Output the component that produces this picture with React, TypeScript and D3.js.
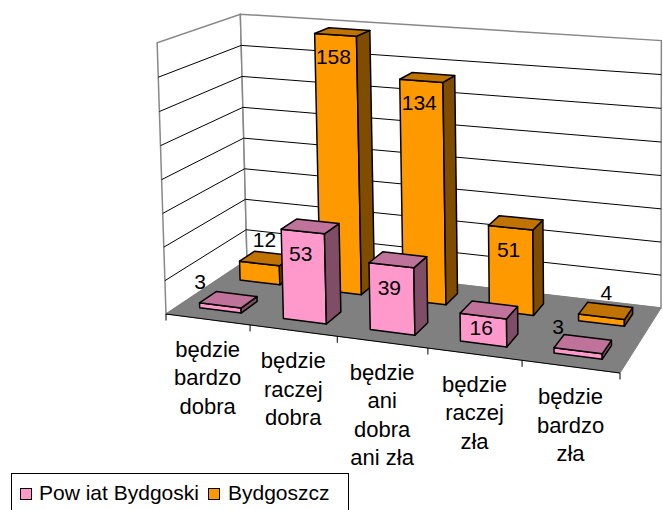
import React from 'react';
import * as d3 from 'd3';

// ---- data ----
const categories = [
  'będzie\nbardzo\ndobra',
  'będzie\nraczej\ndobra',
  'będzie\nani\ndobra\nani zła',
  'będzie\nraczej\nzła',
  'będzie\nbardzo\nzła',
];
const seriesNames = ['Pow iat Bydgoski', 'Bydgoszcz'];
const powiatValues = [3, 53, 39, 16, 3];
const bydgoszczValues = [12, 158, 134, 51, 4];
const valueTicks = [0, 20, 40, 60, 80, 100, 120, 140, 160];

const W = 663;
const H = 510;
const FONT = 'Liberation Sans, Arial, sans-serif';

// floor corners on screen: front-left, front-right, back-right, back-left
const FL = [166, 314];
const FR = [620, 373];
const BR = [661, 308];
const BL = [247, 260];
const VP = [641, 14850]; // vanishing point of vertical edges

function makeHomography() {
  const [x0, y0] = FL, [x1, y1] = FR, [x2, y2] = BR, [x3, y3] = BL;
  const dx1 = x1 - x2, dy1 = y1 - y2, dx2 = x3 - x2, dy2 = y3 - y2;
  const dx3 = x0 - x1 + x2 - x3, dy3 = y0 - y1 + y2 - y3;
  const den = dx1 * dy2 - dx2 * dy1;
  const g = (dx3 * dy2 - dx2 * dy3) / den;
  const h = (dx1 * dy3 - dx3 * dy1) / den;
  return {
    a: x1 - x0 + g * x1, b: x3 - x0 + h * x3, c: x0,
    d: y1 - y0 + g * y1, e: y3 - y0 + h * y3, f: y0, g, h,
  };
}
const HM = makeHomography();

const yScale = d3.scaleLinear().domain([0, 160]).range([0, 272]);
const xBand = d3.scaleBand<number>().domain(d3.range(categories.length)).range([0, 1]).paddingInner(0.5).paddingOuter(0.25);
const xSlot = d3.scaleBand<number>().domain(d3.range(categories.length)).range([0, 1]);
const zBand = d3.scaleBand<string>().domain(['front', 'back']).range([0, 1]).paddingInner(0.6).paddingOuter(0.3);

function proj(u: number, v: number, t: number): [number, number] {
  const X = HM.a * u + HM.b * v + HM.c;
  const Y = HM.d * u + HM.e * v + HM.f;
  const Wd = HM.g * u + HM.h * v + 1;
  const s = yScale(t);
  const X2 = X - (s * VP[0]) / VP[1];
  const Y2 = Y - s;
  const W2 = Wd - s / VP[1];
  return [X2 / W2, Y2 / W2];
}

const poly = (pts: [number, number][]) => (d3.line()(pts) || '') + 'Z';

const seriesDefs = [
  { name: seriesNames[0], values: powiatValues, row: 'front', front: '#FF99CC', top: '#C0739A', side: '#804D66', outDx: -20 },
  { name: seriesNames[1], values: bydgoszczValues, row: 'back', front: '#FF9900', top: '#C07300', side: '#804D00', outDx: 5 },
];

export default function App() {
  const top = valueTicks[valueTicks.length - 1];
  const leftWall = poly([proj(0, 0, 0), proj(0, 1, 0), proj(0, 1, top), proj(0, 0, top)]);
  const backWall = poly([proj(0, 1, 0), proj(1, 1, 0), proj(1, 1, top), proj(0, 1, top)]);
  const floor = poly([proj(0, 0, 0), proj(1, 0, 0), proj(1, 1, 0), proj(0, 1, 0)]);
  const grid = valueTicks.slice(1, -1);

  const bars: any[] = [];
  const labels: any[] = [];
  // back row first, then front row; left to right
  [seriesDefs[1], seriesDefs[0]].forEach((s) => {
    const v0 = zBand(s.row)!;
    const v1 = v0 + zBand.bandwidth();
    s.values.forEach((val, i) => {
      const u0 = xBand(i)!;
      const u1 = u0 + xBand.bandwidth();
      const front = poly([proj(u0, v0, 0), proj(u1, v0, 0), proj(u1, v0, val), proj(u0, v0, val)]);
      const side = poly([proj(u1, v0, 0), proj(u1, v1, 0), proj(u1, v1, val), proj(u1, v0, val)]);
      const topF = poly([proj(u0, v0, val), proj(u1, v0, val), proj(u1, v1, val), proj(u0, v1, val)]);
      bars.push(
        <g key={s.name + i} stroke="#000" strokeWidth={1.5} strokeLinejoin="round">
          <path d={front} fill={s.front} />
          <path d={side} fill={s.side} />
          <path d={topF} fill={s.top} />
        </g>
      );
      const a = proj((u0 + u1) / 2, v0, val);
      const b = proj((u0 + u1) / 2, v0, 0);
      const hpx = b[1] - a[1];
      let lx: number, ly: number;
      if (hpx > 20) {
        lx = a[0] - 2;
        ly = a[1] + Math.min(22, hpx * 0.4);
      } else {
        lx = a[0] + s.outDx;
        ly = a[1] - 24;
      }
      labels.push(
        <text key={'l' + s.name + i} x={lx} y={ly} dy="0.36em" textAnchor="middle" fontSize={21} fontFamily={FONT} fill="#000">
          {val}
        </text>
      );
    });
  });

  const ticks = d3.range(categories.length + 1).map((i) => {
    const u = i / categories.length;
    const p = proj(u, 0, 0);
    return <line key={'t' + i} x1={p[0]} y1={p[1]} x2={p[0]} y2={p[1] + 6.5} stroke="#000" strokeWidth={1} />;
  });

  const catLabels = categories.map((c, i) => {
    const u = xSlot(i)! + xSlot.bandwidth() / 2;
    const p = proj(u, 0, 0);
    return (
      <text key={'c' + i} textAnchor="middle" fontSize={22} fontFamily={FONT} fill="#000">
        {c.split('\n').map((line, j) => (
          <tspan key={j} x={p[0]} y={p[1] + 37.5 + j * 28.5}>{line}</tspan>
        ))}
      </text>
    );
  });

  return (
    <svg width={W} height={H} style={{ position: 'absolute', left: 0, top: 0, background: '#fff' }}>
      <rect x={0} y={0} width={W} height={H} fill="#fff" />
      <path d={leftWall} fill="#fff" stroke="#888" strokeWidth={1.5} />
      <path d={backWall} fill="#fff" stroke="#888" strokeWidth={1.5} />
      {grid.map((t) => {
        const p0 = proj(0, 0, t), p1 = proj(0, 1, t), p2 = proj(1, 1, t);
        return (
          <g key={'g' + t}>
            <line x1={p0[0]} y1={p0[1]} x2={p1[0]} y2={p1[1]} stroke="#000" strokeWidth={1} />
            <line x1={p1[0]} y1={p1[1]} x2={p2[0]} y2={p2[1]} stroke="#000" strokeWidth={1} />
          </g>
        );
      })}
      <path d={floor} fill="#808080" stroke="#808080" strokeWidth={1} />
      {(() => {
        const p0 = proj(0, 0, 0), p1 = proj(1, 0, 0);
        return <line x1={p0[0]} y1={p0[1]} x2={p1[0]} y2={p1[1]} stroke="#000" strokeWidth={1} />;
      })()}
      {ticks}
      {bars}
      {labels}
      {catLabels}
      <g>
        <rect x={11.5} y={473.5} width={337} height={60} fill="#fff" stroke="#000" strokeWidth={1} />
        <rect x={20.5} y={488.5} width={11} height={11} fill={seriesDefs[0].front} stroke="#000" strokeWidth={1} />
        <text x={39} y={499.5} fontSize={21} fontFamily={FONT} fill="#000">{seriesNames[0]}</text>
        <rect x={208.5} y={488.5} width={11} height={11} fill={seriesDefs[1].front} stroke="#000" strokeWidth={1} />
        <text x={228} y={499.5} fontSize={21} fontFamily={FONT} fill="#000">{seriesNames[1]}</text>
      </g>
    </svg>
  );
}
